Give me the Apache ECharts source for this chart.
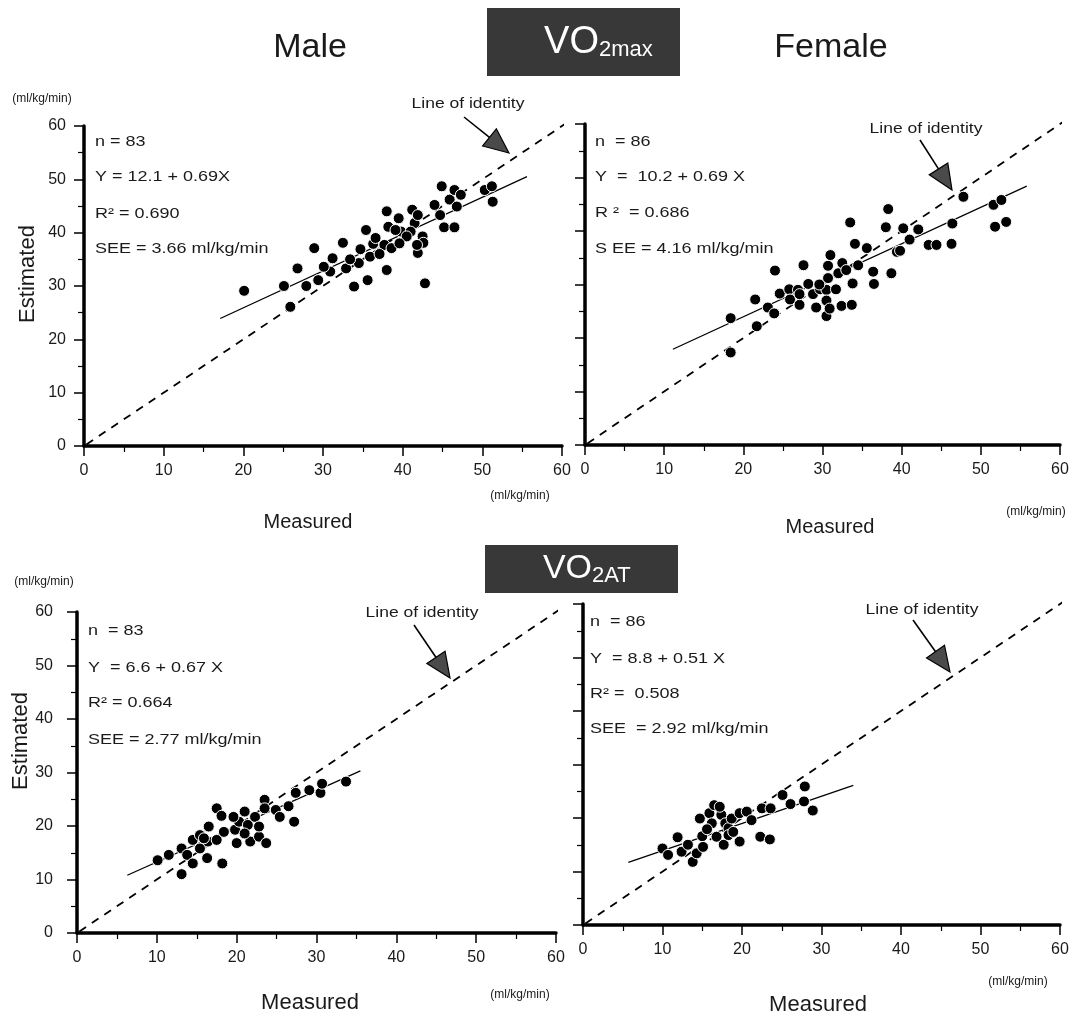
<!DOCTYPE html>
<html>
<head>
<meta charset="utf-8">
<script src="https://cdn.jsdelivr.net/npm/echarts@6/dist/echarts.min.js"></script>
<style>
html,body{margin:0;padding:0;background:#fff;}
#main{width:1073px;height:1020px;}
</style>
</head>
<body>
<div id="main"></div>
<script>
// 轴刻度
var axisMin = 0, axisMax = 60, axisStep = 10;

// VO2max 男
var maleMaxPts = [[20.1,29.1],[25.1,30.0],[26.8,33.3],[25.9,26.1],[28.9,37.1],[27.9,30.0],[29.4,31.1],[30.9,32.7],
	[31.2,35.2],[32.5,38.1],[32.9,33.3],[33.9,29.9],[34.7,36.9],[35.4,40.5],[35.6,31.1],[36.3,37.9],[38.0,44.0],
	[38.2,41.1],[38.0,33.0],[37.7,37.7],[38.6,37.1],[39.5,42.7],[39.8,40.2],[41.2,44.3],[41.5,41.8],[41.9,43.3],
	[42.5,39.3],[42.6,38.1],[41.9,36.2],[42.8,30.5],[44.9,48.7],[44.7,43.3],[45.2,41.0],[45.9,46.2],[46.5,48.0],
	[47.3,47.1],[46.8,44.9],[46.5,41.0],[50.3,48.0],[51.2,48.7],[51.3,45.8],[41.0,40.2],[40.5,39.3],[35.9,35.5],
	[34.5,34.3],[39.1,40.5],[39.6,38.0],[41.8,37.7],[36.6,39.0],[33.4,35.0],[30.1,33.6],[44.0,45.2],[37.1,36.0]];
var maleMaxFit = [[17.1,23.9],[55.6,50.5]];
var maleMaxStats = ['n = 83', 'Y = 12.1 + 0.69X', 'R² = 0.690', 'SEE = 3.66 ml/kg/min'];

// VO2max 女
var femaleMaxPts = [[18.4,23.7],[18.4,17.3],[21.5,27.2],[21.7,22.2],[23.1,25.7],[24.0,32.6],[24.6,28.3],[23.9,24.6],
	[25.8,29.1],[26.9,29.0],[25.9,27.2],[27.1,26.2],[27.6,33.6],[28.2,30.1],[29.2,25.7],[28.8,28.2],[29.7,29.1],
	[30.5,29.0],[30.7,31.2],[30.7,33.5],[31.0,35.5],[30.5,27.0],[30.5,24.1],[31.7,29.1],[32.0,32.1],[32.5,34.0],
	[32.4,26.0],[33.7,26.2],[33.5,41.6],[33.8,30.2],[34.1,37.6],[34.5,33.6],[35.6,36.8],[36.4,32.4],[36.5,30.1],
	[38.3,44.1],[38.0,40.7],[38.7,32.1],[39.4,36.1],[40.2,40.5],[41.0,38.4],[42.1,40.3],[43.4,37.4],[44.4,37.4],
	[46.3,37.6],[46.4,41.4],[47.8,46.4],[51.6,44.9],[52.6,45.8],[51.8,40.8],[53.2,41.7],[39.8,36.3],[33.0,32.7],
	[27.1,28.2],[30.9,25.5],[29.6,30.0]];
var femaleMaxFit = [[11.1,17.9],[55.8,48.4]];
var femaleMaxStats = ['n  = 86', 'Y  =  10.2 + 0.69 X', 'R ²  = 0.686', 'S EE = 4.16 ml/kg/min'];

// VO2AT 男
var maleAtPts = [[10.1,13.6],[11.5,14.6],[13.1,11.0],[13.1,15.8],[13.8,14.6],[14.5,17.4],[14.5,13.0],[15.4,15.8],
	[15.4,18.3],[16.3,14.0],[16.4,17.1],[16.5,19.9],[17.5,23.3],[17.5,17.4],[18.1,21.9],[18.2,13.0],[18.4,18.9],
	[19.8,19.3],[20.0,16.8],[20.3,20.8],[21.0,22.7],[21.4,20.2],[21.7,17.1],[22.3,21.7],[22.8,18.0],[22.8,19.9],
	[23.5,24.9],[23.5,23.3],[23.7,16.8],[24.9,23.0],[25.4,21.7],[26.5,23.7],[27.2,20.8],[27.4,26.2],[29.1,26.7],
	[30.5,26.2],[30.7,27.9],[33.7,28.3],[19.6,21.7],[15.9,17.7],[21.0,18.6]];
var maleAtFit = [[6.3,10.8],[35.5,30.3]];
var maleAtStats = ['n  = 83', 'Y  = 6.6 + 0.67 X', 'R² = 0.664', 'SEE = 2.77 ml/kg/min'];

// VO2AT 女
var femaleAtPts = [[10.0,14.3],[10.7,13.1],[11.9,16.4],[12.4,13.7],[13.2,15.0],[13.8,11.8],[14.3,13.4],[14.7,19.9],
	[15.0,16.6],[15.1,14.6],[15.9,20.9],[16.2,19.0],[16.5,22.4],[16.8,16.5],[17.4,20.6],[17.7,15.0],[17.9,19.0],
	[18.3,18.1],[18.7,19.9],[18.3,16.8],[19.7,15.6],[19.7,20.9],[20.6,21.2],[21.2,19.6],[22.3,16.5],[22.5,21.8],
	[23.5,16.0],[23.6,21.8],[25.1,24.3],[26.1,22.6],[27.9,25.9],[27.8,23.1],[28.9,21.4],[17.2,22.1],[18.9,17.4],
	[15.6,17.9]];
var femaleAtFit = [[5.7,11.7],[34.0,26.1]];
var femaleAtStats = ['n  = 86', 'Y  = 8.8 + 0.51 X', 'R² =  0.508', 'SEE  = 2.92 ml/kg/min'];

// 等值线
var identityLine = [[0.3,0.3],[61,61]];

var FONT = '"Liberation Sans", Arial, Helvetica, sans-serif';

var panels = [
	{grid:{left:84,top:126,width:478,height:320}, pts:maleMaxPts, fit:maleMaxFit, stats:maleMaxStats, yLabel:true, yMargin:18,
		statX:95, statY:[142,177,214,249], idText:[468,104], arrow:[[464,117],[509,153]]},
	{grid:{left:585,top:124,width:475,height:321}, pts:femaleMaxPts, fit:femaleMaxFit, stats:femaleMaxStats, yLabel:false,
		statX:595, statY:[142,177,213,249], idText:[926,129], arrow:[[920,140],[952,190]]},
	{grid:{left:77,top:612,width:479,height:321}, pts:maleAtPts, fit:maleAtFit, stats:maleAtStats, yLabel:true, yMargin:24,
		statX:88, statY:[631,668,703,740], idText:[422,613], arrow:[[414,625],[450,678]]},
	{grid:{left:583,top:604,width:477,height:321}, pts:femaleAtPts, fit:femaleAtFit, stats:femaleAtStats, yLabel:false,
		statX:590, statY:[622,659,694,729], idText:[922,610], arrow:[[913,620],[950,672]]}
];

function axisBase(i){
	return {
		gridIndex:i, type:'value', min:axisMin, max:axisMax, interval:axisStep,
		axisLine:{onZero:false, lineStyle:{color:'#000', width:3.5}},
		axisTick:{length:10, lineStyle:{color:'#000', width:1.5}},
		minorTick:{show:true, splitNumber:2, length:6, lineStyle:{color:'#000', width:1.2}},
		splitLine:{show:false}
	};
}

function txt(x, y, s, size, align, color, sx){
	return {type:'text', x:x, y:y, z:10, scaleX:sx||1, style:{text:s, font:size+'px '+FONT, fill:color||'#1a1a1a',
		textAlign:align||'left', align:align||'left', textVerticalAlign:'middle', verticalAlign:'middle'}};
}

// 箭头
function arrow(tail, tip){
	var dx=tip[0]-tail[0], dy=tip[1]-tail[1];
	var L=Math.sqrt(dx*dx+dy*dy), ux=dx/L, uy=dy/L;
	var bx=tip[0]-ux*25, by=tip[1]-uy*25, px=-uy*11, py=ux*11;
	return [
		{type:'line', z:10, shape:{x1:tail[0],y1:tail[1],x2:bx+ux*2,y2:by+uy*2}, style:{stroke:'#000', lineWidth:1.6}},
		{type:'polygon', z:10, shape:{points:[tip,[bx+px,by+py],[bx-px,by-py]]}, style:{fill:'#4a4a4a', stroke:'#000', lineWidth:1.2}}
	];
}

var grids=[], xAxes=[], yAxes=[], series=[], graphics=[];
panels.forEach(function(p, i){
	grids.push(p.grid);
	var xa = axisBase(i);
	xa.axisLabel = {margin:17, fontSize:16, color:'#1a1a1a', fontFamily:FONT, showMinLabel:true, showMaxLabel:true};
	xAxes.push(xa);
	var ya = axisBase(i);
	ya.axisLabel = {show:p.yLabel, margin:p.yMargin||18, fontSize:16, color:'#1a1a1a', fontFamily:FONT, showMinLabel:true, showMaxLabel:true};
	yAxes.push(ya);

	series.push({type:'line', xAxisIndex:i, yAxisIndex:i, data:identityLine, symbol:'none', clip:false, silent:true,
		lineStyle:{color:'#000', width:1.8, type:[8,7]}});
	series.push({type:'line', xAxisIndex:i, yAxisIndex:i, data:p.fit, symbol:'none', silent:true,
		lineStyle:{color:'#000', width:1.3}});
	series.push({type:'scatter', xAxisIndex:i, yAxisIndex:i, data:p.pts, symbolSize:11, z:5,
		itemStyle:{color:'#000', borderColor:'#fff', borderWidth:1, opacity:1}});

	p.stats.forEach(function(s, j){
		graphics.push(txt(p.statX, p.statY[j], s, 15, 'left', '#1a1a1a', 1.2));
	});
	graphics.push(txt(p.idText[0], p.idText[1], 'Line of identity', 14, 'center', '#1a1a1a', 1.25));
	graphics = graphics.concat(arrow(p.arrow[0], p.arrow[1]));
});

// 标题
graphics.push(txt(310, 48, 'Male', 34, 'center'));
graphics.push(txt(831, 48, 'Female', 34, 'center'));
graphics.push({type:'rect', z:8, shape:{x:487, y:8, width:193, height:68}, style:{fill:'#383838'}});
graphics.push(txt(599, 43, 'VO', 38, 'right', '#fff'));
graphics.push(txt(599, 50, '2max', 22, 'left', '#fff'));
graphics.push({type:'rect', z:8, shape:{x:485, y:545, width:193, height:48}, style:{fill:'#383838'}});
graphics.push(txt(592, 569, 'VO', 34, 'right', '#fff'));
graphics.push(txt(592, 576, '2AT', 22, 'left', '#fff'));

// 轴标题
var est1 = txt(28, 274, 'Estimated', 22, 'center'); est1.rotation = Math.PI/2;
var est2 = txt(21, 741, 'Estimated', 22, 'center'); est2.rotation = Math.PI/2;
graphics.push(est1, est2);
graphics.push(txt(308, 522, 'Measured', 20, 'center'));
graphics.push(txt(830, 527, 'Measured', 20, 'center'));
graphics.push(txt(310, 1003, 'Measured', 22, 'center'));
graphics.push(txt(818, 1005, 'Measured', 22, 'center'));

// 单位
graphics.push(txt(42, 99, '(ml/kg/min)', 12, 'center'));
graphics.push(txt(520, 496, '(ml/kg/min)', 12, 'center'));
graphics.push(txt(1036, 512, '(ml/kg/min)', 12, 'center'));
graphics.push(txt(44, 582, '(ml/kg/min)', 12, 'center'));
graphics.push(txt(520, 995, '(ml/kg/min)', 12, 'center'));
graphics.push(txt(1018, 982, '(ml/kg/min)', 12, 'center'));

var chart = echarts.init(document.getElementById('main'));
chart.setOption({
	animation:false,
	backgroundColor:'#fff',
	grid:grids,
	xAxis:xAxes,
	yAxis:yAxes,
	series:series,
	graphic:graphics
});
</script>
</body>
</html>
